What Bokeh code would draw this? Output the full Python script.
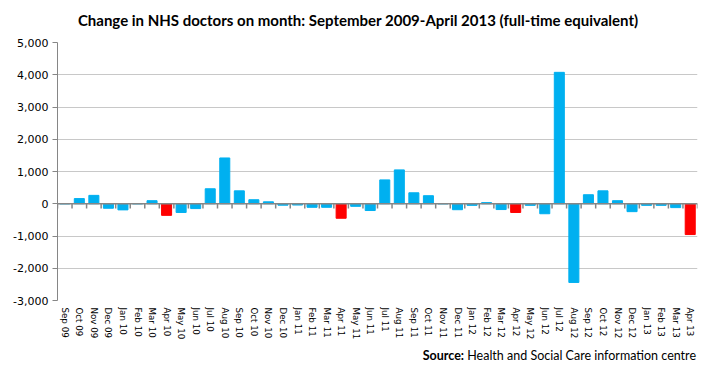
from bokeh.plotting import figure
from bokeh.models import (ColumnDataSource, FactorRange, Range1d, Span, Div,
                          NumeralTickFormatter, FixedTicker)
from bokeh.layouts import column
from bokeh.transform import dodge
from bokeh.embed import file_html
from bokeh.resources import INLINE

months = ["Sep 09", "Oct 09", "Nov 09", "Dec 09", "Jan 10", "Feb 10", "Mar 10", "Apr 10",
          "May 10", "Jun 10", "Jul 10", "Aug 10", "Sep 10", "Oct 10", "Nov 10", "Dec 10",
          "Jan 11", "Feb 11", "Mar 11", "Apr 11", "May 11", "Jun 11", "Jul 11", "Aug 11",
          "Sep 11", "Oct 11", "Nov 11", "Dec 11", "Jan 12", "Feb 12", "Mar 12", "Apr 12",
          "May 12", "Jun 12", "Jul 12", "Aug 12", "Sep 12", "Oct 12", "Nov 12", "Dec 12",
          "Jan 13", "Feb 13", "Mar 13", "Apr 13"]
change = [0, 160, 260, -140, -190, 0, 95, -360,
          -270, -150, 465, 1420, 400, 125, 60, -45,
          -40, -110, -110, -450, -80, -210, 740, 1050,
          340, 250, 0, -185, -50, 35, -180, -270,
          -50, -310, 4075, -2440, 280, 400, 95, -245,
          -50, -50, -120, -955]
highlight = ["Apr 10", "Apr 11", "Apr 12", "Apr 13"]
y_ticks = [-3000, -2000, -1000, 0, 1000, 2000, 3000, 4000, 5000]

TITLE = "Change in NHS doctors on month: September 2009-April 2013 (full-time equivalent)"
SOURCE_BOLD = "Source:"
SOURCE_TEXT = "Health and Social Care information centre"

BLUE = "#00B0F0"
RED = "#FF0000"
colors = [RED if m in highlight else BLUE for m in months]
src = ColumnDataSource(dict(month=months, change=change, color=colors))

W = 716
p = figure(width=W, height=310, output_backend="svg", toolbar_location=None,
           x_range=FactorRange(*months, range_padding=0),
           y_range=Range1d(y_ticks[0], y_ticks[-1]),
           min_border_left=57, min_border_right=19, min_border_top=10,
           min_border_bottom=41)
p.outline_line_color = None
p.background_fill_color = "white"

p.vbar(x="month", top="change", bottom=0, width=0.69, color="color", source=src)

# grid
p.xgrid.grid_line_color = None
p.ygrid.grid_line_color = "#C8C8C8"
p.ygrid.grid_line_width = 1
p.yaxis.ticker = FixedTicker(ticks=y_ticks)

# zero line (category axis) with tick marks between categories
p.add_layout(Span(location=0, dimension="width", line_color="#868686", line_width=1.5))
tick_src = ColumnDataSource(dict(month=months))
p.segment(x0=dodge("month", -0.5, range=p.x_range), y0=0,
          x1=dodge("month", -0.5, range=p.x_range), y1=-150,
          line_color="#868686", line_width=1.5, source=tick_src)
p.segment(x0=dodge("month", 0.5, range=p.x_range), y0=0,
          x1=dodge("month", 0.5, range=p.x_range), y1=-150,
          line_color="#868686", line_width=1.5,
          source=ColumnDataSource(dict(month=months[-1:])))

# y axis
ya = p.yaxis[0]
ya.formatter = NumeralTickFormatter(format="0,0")
ya.axis_line_color = "#868686"
ya.major_tick_line_color = "#868686"
ya.major_tick_out = 5
ya.major_tick_in = 0
ya.minor_tick_line_color = None
ya.major_label_text_font = "DejaVu Sans"
ya.major_label_text_font_size = "11px"
ya.major_label_text_color = "#000000"
ya.major_label_standoff = 4

# x axis (labels at low position)
xa = p.xaxis[0]
xa.axis_line_color = None
xa.major_tick_line_color = None
xa.major_tick_out = 0
xa.major_label_orientation = "vertical"
xa.major_label_text_font = "DejaVu Sans"
xa.major_label_text_font_size = "8.7px"
xa.major_label_text_color = "#000000"
xa.major_label_standoff = 7

title_div = Div(
    text=('<div style="font-family:Lato;font-weight:bold;font-size:15px;'
          'text-align:center;width:716px;padding-top:11px;line-height:18px;'
          'color:#000;">' + TITLE + '</div>'),
    width=W, height=32, margin=0)
source_div = Div(
    text=('<div style="font-family:Lato;font-size:12.5px;text-align:right;'
          'width:696px;padding-top:6px;line-height:16px;color:#000;">'
          '<b>' + SOURCE_BOLD + '</b> ' + SOURCE_TEXT + '</div>'),
    width=W, height=37, margin=0)

layout = column(title_div, p, source_div, spacing=0, margin=0)
open("out.html", "w").write(file_html(layout, INLINE))
